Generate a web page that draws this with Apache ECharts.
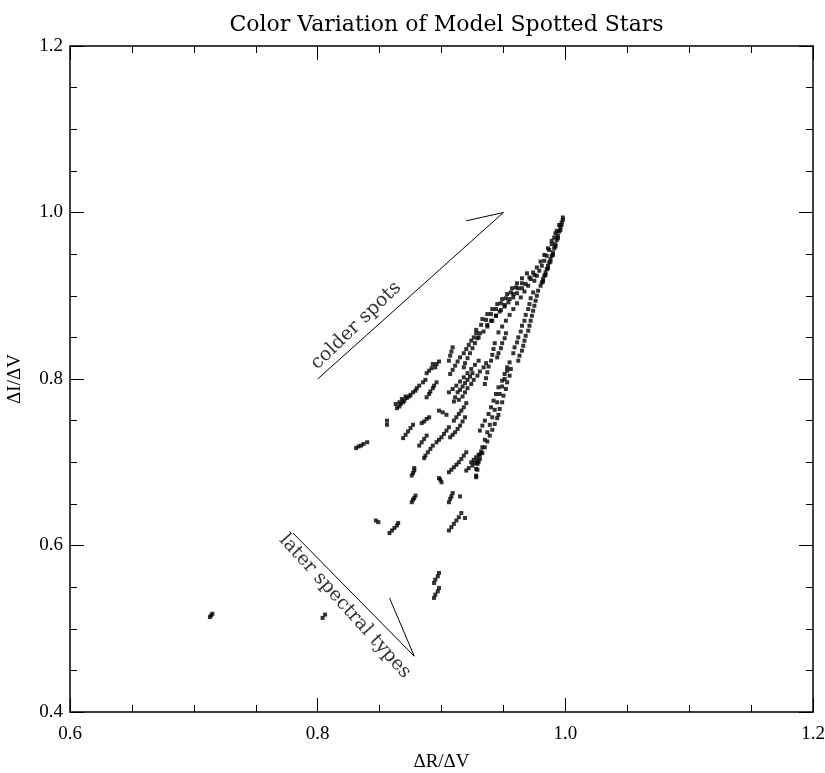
<!DOCTYPE html>
<html>
<head>
<meta charset="utf-8">
<script src="https://cdn.jsdelivr.net/npm/echarts@6/dist/echarts.min.js"></script>
<style>html,body{margin:0;padding:0;background:#fff}#c{width:825px;height:773px}</style>
</head>
<body>
<div id="c"></div>
<script>
// ---- chart text ----
const titleText = 'Color Variation of Model Spotted Stars';
const xName = '\u0394R/\u0394V';
const yName = '\u0394I/\u0394V';
const xTicks = [0.6, 0.8, 1.0, 1.2];
const yTicks = [0.4, 0.6, 0.8, 1.0, 1.2];

// ---- model star points [dR/dV, dI/dV] ----
const tipPoints = [
 [0.998,0.994],[0.997,0.988],[0.996,0.982],[0.995,0.977],[0.994,0.972],[0.993,0.967],[0.992,0.962],[0.991,0.957],[0.990,0.952],[0.989,0.948],[0.988,0.944],[0.987,0.940],[0.986,0.936],[0.985,0.932],[0.984,0.928],[0.983,0.924],[0.982,0.920],[0.981,0.916],[0.980,0.912],
 [0.998,0.991],[0.997,0.985],[0.996,0.979],[0.994,0.969],[0.992,0.959],[0.990,0.949],[0.988,0.941],[0.986,0.933],[0.984,0.925],[0.982,0.917],
 [0.995,0.985],[0.993,0.978],[0.991,0.970],[0.989,0.962],[0.987,0.955],[0.985,0.948],[0.983,0.942],[0.981,0.936],[0.979,0.930],[0.977,0.924],[0.975,0.918],
 [0.992,0.975],[0.989,0.966],[0.986,0.957],[0.983,0.949],[0.980,0.941],[0.977,0.934],[0.974,0.928],[0.971,0.922]
];
const wedgePoints = [
 [0.975,0.925],[0.972,0.920],[0.968,0.914],[0.965,0.909],[0.961,0.903],[0.958,0.898],[0.954,0.892],[0.951,0.887],[0.947,0.881],[0.944,0.876],[0.940,0.870],[0.937,0.865],
 [0.969,0.927],[0.965,0.921],[0.961,0.915],[0.957,0.909],[0.953,0.902],[0.949,0.896],[0.945,0.890],[0.941,0.884],[0.937,0.878],[0.933,0.872],
 [0.978,0.906],[0.977,0.900],[0.976,0.894],[0.975,0.888],[0.974,0.882],[0.973,0.876],[0.972,0.870],[0.971,0.864],[0.970,0.858],[0.968,0.852],[0.967,0.846],[0.966,0.840],[0.965,0.834],[0.963,0.828],[0.962,0.822],
 [0.974,0.904],[0.972,0.897],[0.971,0.890],[0.970,0.884],[0.968,0.877],[0.967,0.870],[0.965,0.864],[0.964,0.857],[0.962,0.850],[0.961,0.844],[0.959,0.838],[0.958,0.831],
 [0.970,0.912],[0.967,0.905],[0.964,0.898],[0.961,0.891],[0.958,0.884],[0.955,0.877],[0.952,0.870],[0.949,0.863],[0.946,0.856],
 [0.965,0.915],[0.962,0.909],[0.958,0.902],[0.955,0.896],[0.951,0.889],[0.948,0.883],[0.944,0.876],[0.941,0.870],[0.937,0.863],[0.934,0.857],[0.930,0.850],
 [0.960,0.910],[0.956,0.904],[0.952,0.897],[0.948,0.891],[0.944,0.884],[0.940,0.878],[0.936,0.871],[0.932,0.865],[0.928,0.859]
];
const rightRays = [
 [0.955,0.820],[0.953,0.810],[0.951,0.800],[0.949,0.791],[0.947,0.782],[0.945,0.772],[0.943,0.763],[0.941,0.754],[0.939,0.745],[0.937,0.736],[0.935,0.727],[0.933,0.718],[0.931,0.709],[0.930,0.700],[0.929,0.691],[0.928,0.682],
 [0.953,0.814],[0.951,0.806],[0.949,0.798],[0.946,0.790],[0.944,0.782],[0.942,0.774],[0.940,0.766],[0.938,0.758],[0.935,0.750],[0.933,0.744],[0.931,0.738],
 [0.945,0.753],[0.943,0.746],[0.941,0.739],[0.939,0.732],[0.937,0.725],[0.935,0.718],[0.933,0.711],[0.931,0.704],[0.929,0.698],[0.928,0.692],[0.928,0.684],
 [0.956,0.812],[0.955,0.804],[0.953,0.796],[0.952,0.788],[0.950,0.780],[0.949,0.772],[0.947,0.764],[0.946,0.757],
 [0.943,0.843],[0.942,0.836],[0.941,0.829],[0.940,0.822],[0.938,0.815],[0.937,0.808],[0.936,0.801],[0.935,0.794],
 [0.952,0.855],[0.951,0.849],[0.949,0.843],[0.948,0.837],[0.946,0.831],[0.945,0.826],
 [0.920,0.712],[0.918,0.708],[0.916,0.704],[0.914,0.700],[0.912,0.697],[0.910,0.694],[0.908,0.691],[0.906,0.688],
 [0.929,0.702],[0.927,0.699],[0.925,0.696],[0.922,0.693],[0.920,0.690],
 [0.932,0.713],[0.930,0.709],[0.928,0.706],[0.926,0.703],[0.924,0.700]
];
const middleRays = [
 [0.928,0.855],[0.926,0.850],[0.924,0.846],[0.922,0.841],[0.920,0.836],[0.918,0.831],[0.915,0.826],[0.913,0.821],[0.911,0.816],[0.909,0.811],[0.907,0.806],
 [0.909,0.838],[0.908,0.833],[0.907,0.828],[0.906,0.822],
 [0.931,0.855],[0.929,0.849],[0.927,0.843],[0.925,0.837],[0.923,0.831],[0.921,0.825],[0.919,0.819],[0.918,0.814],
 [0.936,0.819],[0.934,0.814],[0.931,0.809],[0.929,0.804],[0.926,0.799],[0.924,0.794],[0.921,0.789],[0.919,0.784],[0.917,0.779],[0.914,0.775],
 [0.925,0.807],[0.923,0.803],[0.921,0.799],[0.919,0.795],[0.917,0.791],[0.915,0.787],[0.913,0.784],
 [0.930,0.822],[0.927,0.817],[0.924,0.812],[0.921,0.807],[0.918,0.802],[0.915,0.797],[0.912,0.792],[0.909,0.788],[0.906,0.784],
 [0.920,0.771],[0.918,0.766],[0.916,0.762],[0.914,0.758],[0.912,0.754],[0.910,0.750],
 [0.919,0.754],[0.917,0.749],[0.915,0.744],[0.913,0.740],[0.911,0.736],[0.909,0.733],[0.907,0.730],
 [0.906,0.742],[0.904,0.738],[0.902,0.734],[0.900,0.730],[0.898,0.727],[0.896,0.724],
 [0.898,0.762],[0.901,0.760],[0.904,0.757],[0.911,0.778],[0.910,0.773]
];
const leftRays = [
 [0.864,0.765],[0.866,0.767],[0.867,0.770],[0.869,0.772],[0.870,0.774],[0.872,0.777],[0.874,0.779],[0.875,0.781],[0.877,0.784],[0.879,0.786],[0.880,0.789],[0.882,0.792],
 [0.863,0.770],[0.866,0.772],[0.868,0.776],[0.871,0.779],[0.885,0.796],[0.887,0.799],
 [0.888,0.778],[0.890,0.782],[0.891,0.785],[0.893,0.789],[0.894,0.792],[0.896,0.796],
 [0.888,0.807],[0.890,0.810],[0.892,0.813],[0.895,0.814],[0.896,0.818],[0.898,0.821],[0.893,0.818],
 [0.869,0.729],[0.871,0.733],[0.873,0.737],[0.875,0.741],[0.877,0.745],
 [0.856,0.750],[0.856,0.745],
 [0.893,0.720],[0.891,0.716],[0.889,0.712],[0.887,0.708],[0.886,0.705],
 [0.888,0.732],[0.886,0.728],[0.884,0.724],[0.882,0.720],
 [0.884,0.747],[0.886,0.749],[0.888,0.752],[0.890,0.754],
 [0.831,0.717],[0.833,0.719],[0.835,0.720],[0.837,0.722],[0.840,0.724]
];
const lowerPoints = [
 [0.876,0.684],[0.877,0.687],[0.878,0.690],[0.878,0.693],
 [0.898,0.681],[0.899,0.679],[0.900,0.676],
 [0.876,0.652],[0.877,0.655],[0.878,0.657],[0.879,0.660],
 [0.906,0.652],[0.907,0.656],[0.908,0.659],[0.909,0.663],[0.915,0.659],
 [0.847,0.630],[0.849,0.628],
 [0.858,0.615],[0.860,0.618],[0.862,0.621],[0.864,0.624],[0.865,0.627],
 [0.906,0.618],[0.908,0.622],[0.910,0.626],[0.912,0.630],[0.914,0.634],[0.916,0.639],[0.919,0.633],
 [0.894,0.555],[0.895,0.559],[0.897,0.563],[0.898,0.567],
 [0.894,0.537],[0.895,0.541],[0.897,0.545],[0.898,0.549],
 [0.713,0.514],[0.714,0.516],[0.715,0.518],
 [0.804,0.513],[0.806,0.517]
];

// ---- annotation arrows (data coordinates) ----
const colderArrow = [[0.80,0.80],[0.95,1.00],[0.92,0.99]];
const laterArrow = [[0.78,0.615],[0.878,0.467],[0.858,0.537]];
const colderLabelAt = [0.831,0.864];
const laterLabelAt = [0.822,0.527];

const FONT = 'Liberation Serif';
const SERIF2 = 'DejaVu Serif';
const GRID = {left:70, right:12, top:46, bottom:61};
const chart = echarts.init(document.getElementById('c'), null, {renderer:'canvas'});
const allPoints = [].concat(tipPoints, wedgePoints, rightRays, middleRays, leftRays, lowerPoints);

function axisCommon(showLabels){
  return {
    type:'value', splitLine:{show:false},
    axisLine:{show:true, onZero:false, lineStyle:{color:'#000', width:1.5}},
    axisTick:{show:true, inside:true, length:14, lineStyle:{color:'#000', width:1}},
    minorTick:{show:true, splitNumber:4, length:7, lineStyle:{color:'#000', width:1}},
    axisLabel:{show:showLabels, color:'#000', fontFamily:FONT, fontSize:19, formatter:v=>v.toFixed(1)}
  };
}
const xBottom = Object.assign(axisCommon(true), {position:'bottom', min:xTicks[0], max:xTicks[xTicks.length-1], interval:0.2,
  name:xName, nameLocation:'middle', nameGap:41, nameTextStyle:{color:'#000', fontFamily:FONT, fontSize:19}});
xBottom.axisLabel.margin = 13;
const xTop = Object.assign(axisCommon(false), {position:'top', min:xTicks[0], max:xTicks[xTicks.length-1], interval:0.2});
const yLeft = Object.assign(axisCommon(true), {position:'left', min:yTicks[0], max:yTicks[yTicks.length-1], interval:0.2,
  name:yName, nameLocation:'middle', nameGap:45, nameRotate:90, nameTextStyle:{color:'#000', fontFamily:FONT, fontSize:19}});
yLeft.axisLabel.margin = 7;
const yRight = Object.assign(axisCommon(false), {position:'right', min:yTicks[0], max:yTicks[yTicks.length-1], interval:0.2});

const plotCenterX = GRID.left + (825 - GRID.left - GRID.right) / 2;

chart.setOption({
  animation:false,
  backgroundColor:'#fff',
  title:{text:titleText, left:plotCenterX, textAlign:'center', top:9, textStyle:{color:'#000', fontFamily:SERIF2, fontSize:22, fontWeight:'normal'}},
  grid:Object.assign({containLabel:false, outerBoundsMode:'none'}, GRID),
  xAxis:[xBottom, xTop],
  yAxis:[yLeft, yRight],
  series:[
    {type:'scatter', xAxisIndex:0, yAxisIndex:0, data:allPoints, symbol:'rect', symbolSize:4, itemStyle:{color:'#000'}, silent:true},
    {type:'line', xAxisIndex:0, yAxisIndex:0, data:colderArrow, showSymbol:false, symbol:'none', lineStyle:{color:'#000', width:1}, silent:true},
    {type:'line', xAxisIndex:0, yAxisIndex:0, data:laterArrow, showSymbol:false, symbol:'none', lineStyle:{color:'#000', width:1}, silent:true},
    {type:'scatter', xAxisIndex:0, yAxisIndex:0, symbolSize:0, silent:true,
      data:[
        {value:colderLabelAt, label:{show:true, formatter:'colder spots', rotate:44}},
        {value:laterLabelAt, label:{show:true, formatter:'later spectral types', rotate:-48}}
      ],
      label:{position:'inside', color:'#000', fontFamily:SERIF2, fontSize:19, align:'center', verticalAlign:'middle'}}
  ]
});
</script>
</body>
</html>
